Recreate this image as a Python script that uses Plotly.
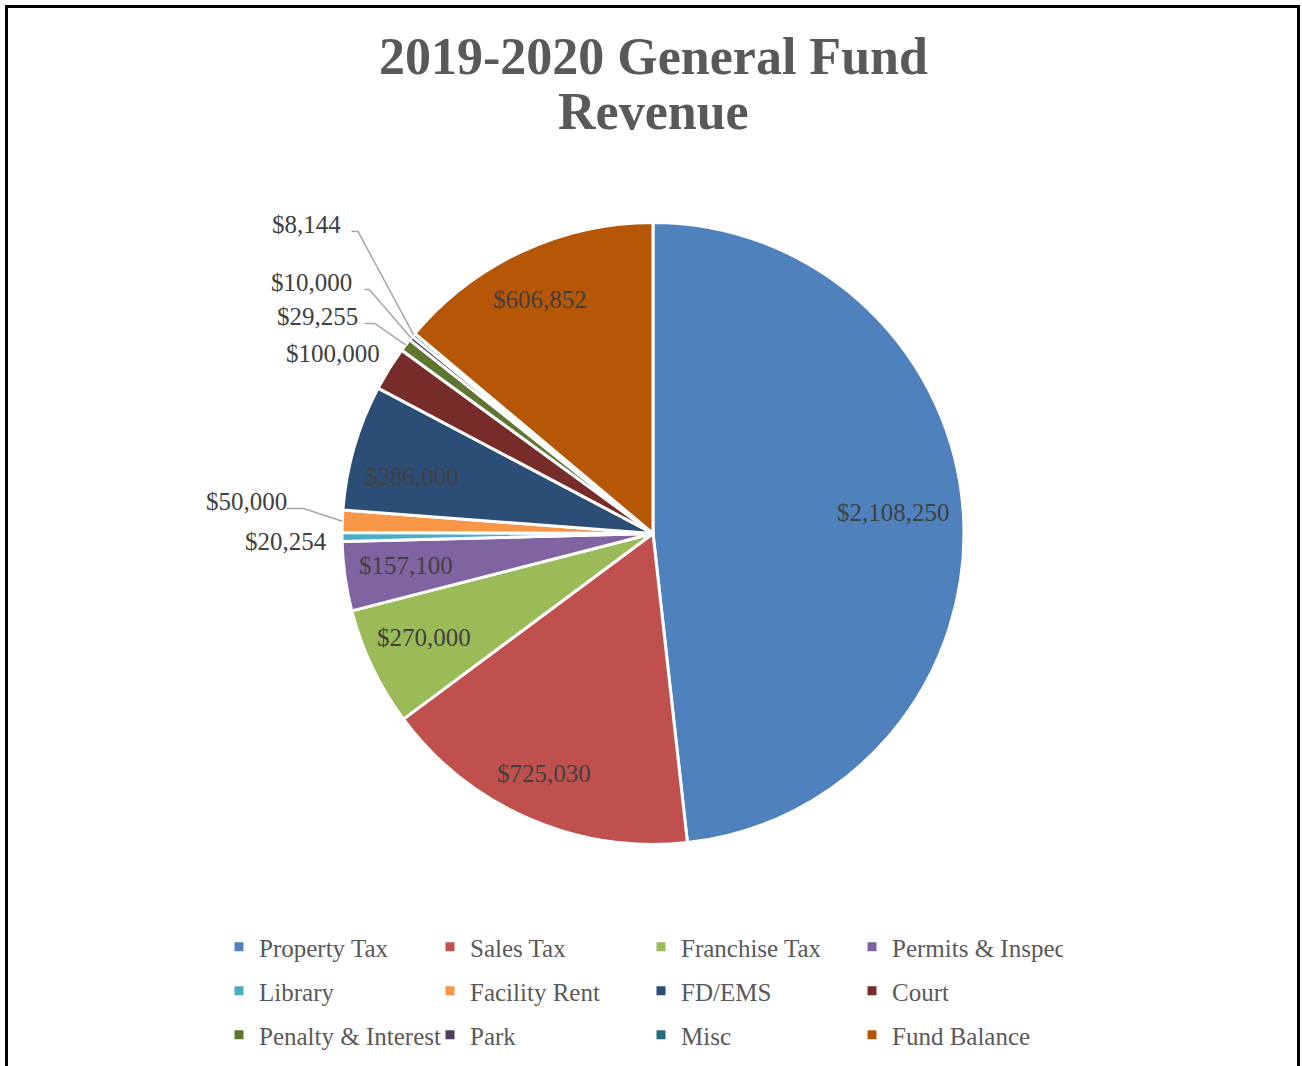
import math
import plotly.graph_objects as go

# ---- data -------------------------------------------------------------
categories = ["Property Tax", "Sales Tax", "Franchise Tax", "Permits & Inspec",
              "Library", "Facility Rent", "FD/EMS", "Court",
              "Penalty & Interest", "Park", "Misc", "Fund Balance"]
revenue = [2108250, 725030, 270000, 157100, 20254, 50000,
           286000, 100000, 29255, 10000, 8144, 606852]
colors = ["#4F81BD", "#C0504D", "#9BBB59", "#8064A2", "#4BACC6", "#F79646",
          "#2C4D75", "#772C2A", "#5F7530", "#4D3B62", "#276A7C", "#B65708"]
title_lines = ["2019-2020 General Fund", "Revenue"]

# ---- layout constants (pixels) ----------------------------------------
W, H = 1302, 1066
CX, CY, R = 653, 533.5, 311
FONT = "Liberation Serif"
LABEL_COLOR = "#404040"
TEXT_COLOR = "#595959"

# label placement: inside -> (radius fraction, angle nudge in degrees)
#                  outside -> (dx, dy from slice edge, draw leader line)
inside_place = {
    "Property Tax": (0.775, -1.8),
    "Sales Tax": (0.848, 0.9),
    "Franchise Tax": (0.809, 1.1),
    "Permits & Inspec": (0.80, 0.5),
    "FD/EMS": (0.796, -2.8),
    "Fund Balance": (0.836, -0.8),
}
outside_place = {
    "Library": (-15.3, 4.1, False),
    "Facility Rent": (-55.3, -19.7, True),
    "Court": (-9.0, -15.0, False),
    "Penalty & Interest": (-47.9, -28.5, True),
    "Park": (-58.7, -55.6, True),
    "Misc": (-72.6, -110.4, True),
}


def px_x(x):
    return x / W


def px_y(y):
    return 1 - y / H


def polar(angle_deg, r):
    a = math.radians(angle_deg)
    return CX + r * math.sin(a), CY - r * math.cos(a)


fig = go.Figure()

fig.add_trace(go.Pie(
    labels=categories,
    values=revenue,
    sort=False,
    direction="clockwise",
    rotation=0,
    marker=dict(colors=colors, line=dict(color="white", width=3)),
    textinfo="none",
    hoverinfo="label+value+percent",
    showlegend=False,
    domain=dict(x=[px_x(CX - R), px_x(CX + R)],
                y=[px_y(CY + R), px_y(CY - R)]),
))

# ---- value labels and leader lines ------------------------------------
total = sum(revenue)
annotations = []
shapes = []
cum = 0.0
for name, val in zip(categories, revenue):
    mid = (cum + val / 2) / total * 360.0
    cum += val
    text = "${:,}".format(val)
    if name in inside_place:
        rf, nudge = inside_place[name]
        x, y = polar(mid + nudge, rf * R)
        annotations.append(dict(
            x=px_x(x), y=px_y(y), xref="paper", yref="paper", text=text,
            showarrow=False, xanchor="center", yanchor="middle",
            font=dict(family=FONT, size=25, color=LABEL_COLOR)))
    else:
        dx, dy, leader = outside_place[name]
        ex, ey = polar(mid, R)
        lx, ly = ex + dx, ey + dy
        annotations.append(dict(
            x=px_x(lx + 2), y=px_y(ly), xref="paper", yref="paper", text=text,
            showarrow=False, xanchor="right", yanchor="middle",
            font=dict(family=FONT, size=25, color=LABEL_COLOR)))
        if leader:
            sx, sy = lx + 6, ly + 7
            kx = sx + 11
            path = "M {:.2f} {:.4f} L {:.4f} {:.4f} L {:.4f} {:.4f}".format(
                px_x(sx), px_y(sy), px_x(kx), px_y(sy), px_x(ex), px_y(ey))
            shapes.append(dict(type="path", path=path, xref="paper", yref="paper",
                               line=dict(color="#A6A6A6", width=1.5)))

# ---- title --------------------------------------------------------------
for line, cy in zip(title_lines, [56, 112]):
    annotations.append(dict(
        x=px_x(653), y=px_y(cy), xref="paper", yref="paper",
        text="<b>" + line + "</b>", showarrow=False,
        xanchor="center", yanchor="middle",
        font=dict(family=FONT, size=52, color=TEXT_COLOR)))

# ---- chart frame ---------------------------------------------------------
shapes.append(dict(type="rect", xref="paper", yref="paper",
                   x0=px_x(6.5), x1=px_x(1298.5), y0=px_y(1100), y1=px_y(6.5),
                   line=dict(color="#000000", width=3), fillcolor="rgba(0,0,0,0)"))

# ---- legend: three rows of four entries ----------------------------------
legend_rows = ["legend", "legend2", "legend3"]
row_y = [947, 991, 1035]
for i, (name, col) in enumerate(zip(categories, colors)):
    fig.add_trace(go.Scatter(
        x=[None], y=[None], mode="markers", name=name,
        marker=dict(symbol="square", size=9, color=col),
        legend=legend_rows[i // 4], showlegend=True, hoverinfo="skip"))

legend_common = dict(orientation="h", xanchor="left", yanchor="middle",
                     x=px_x(219), entrywidth=166, entrywidthmode="pixels",
                     bgcolor="rgba(0,0,0,0)", borderwidth=0,
                     font=dict(family=FONT, size=25, color=TEXT_COLOR))

fig.update_layout(
    width=W, height=H,
    margin=dict(l=0, r=0, t=0, b=0),
    paper_bgcolor="white", plot_bgcolor="white",
    xaxis=dict(visible=False), yaxis=dict(visible=False),
    annotations=annotations, shapes=shapes,
    legend=dict(legend_common, y=px_y(row_y[0])),
    legend2=dict(legend_common, y=px_y(row_y[1])),
    legend3=dict(legend_common, y=px_y(row_y[2])),
)

fig.write_html("out.html")
